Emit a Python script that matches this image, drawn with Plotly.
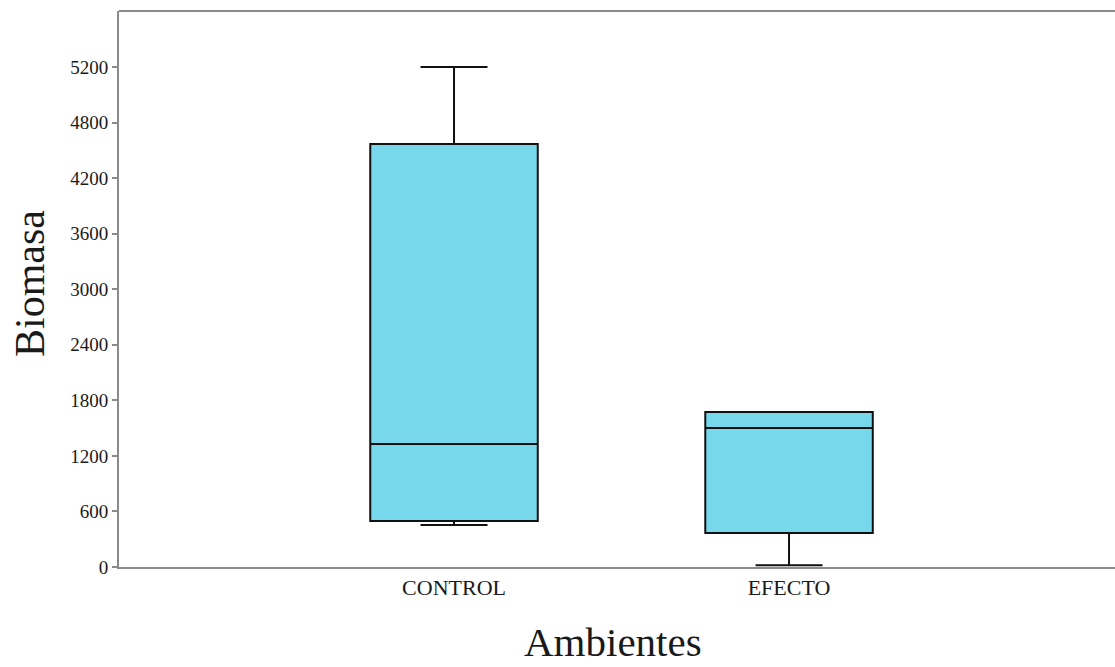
import plotly.graph_objects as go

# Box summary statistics per environment (in axis units)
categories = ["CONTROL", "EFECTO"]
lower_whisker = [454, 20]
q1 = [497, 367]
median = [1328, 1501]
q3 = [4569, 1674]
upper_whisker = [5400, 1674]

# Y axis tick positions and their printed labels
y_tickvals = [0, 600, 1200, 1800, 2400, 3000, 3600, 4200, 4800, 5400]
y_ticktext = ["0", "600", "1200", "1800", "2400", "3000", "3600", "4200", "4800", "5200"]

fig = go.Figure()
fig.add_trace(go.Box(
    x=categories,
    q1=q1,
    median=median,
    q3=q3,
    lowerfence=lower_whisker,
    upperfence=upper_whisker,
    width=0.5,
    whiskerwidth=0.4,
    fillcolor="#76D8EA",
    line=dict(color="#111111", width=2),
    boxpoints=False,
    hoverinfo="skip",
    showlegend=False,
))

serif = "Liberation Serif"
axis_grey = "#8a8a8a"
text_col = "#1a1a1a"

# top frame line across the plot area
fig.add_shape(type="line", xref="paper", yref="paper", x0=0, x1=1, y0=1, y1=1,
              line=dict(color=axis_grey, width=2))

# axis titles
fig.add_annotation(text="Ambientes", xref="paper", yref="paper", x=0.5, y=0,
                   xanchor="center", yanchor="bottom", xshift=-4, yshift=-100,
                   showarrow=False, font=dict(family=serif, size=41, color=text_col))
fig.add_annotation(text="Biomasa", xref="paper", yref="paper", x=0, y=0.5,
                   xanchor="center", yanchor="middle", xshift=-89, yshift=5,
                   textangle=-90, showarrow=False,
                   font=dict(family=serif, size=42, color=text_col))

fig.update_layout(
    width=1115,
    height=667,
    margin=dict(l=119, r=0, t=11, b=100),
    paper_bgcolor="white",
    plot_bgcolor="white",
    font=dict(family=serif, color=text_col),
    xaxis=dict(
        type="category",
        range=[-1, 1.973],
        showline=True,
        linecolor=axis_grey,
        linewidth=2,
        ticks="",
        showgrid=False,
        zeroline=False,
        tickfont=dict(family=serif, size=22, color=text_col),
    ),
    yaxis=dict(
        range=[0, 6005],
        tickvals=y_tickvals,
        ticktext=y_ticktext,
        showline=True,
        linecolor=axis_grey,
        linewidth=2,
        ticks="outside",
        ticklen=5,
        tickcolor=axis_grey,
        tickwidth=1.5,
        showgrid=False,
        zeroline=False,
        tickfont=dict(family=serif, size=19, color=text_col),
    ),
)

fig.write_html("out.html")
